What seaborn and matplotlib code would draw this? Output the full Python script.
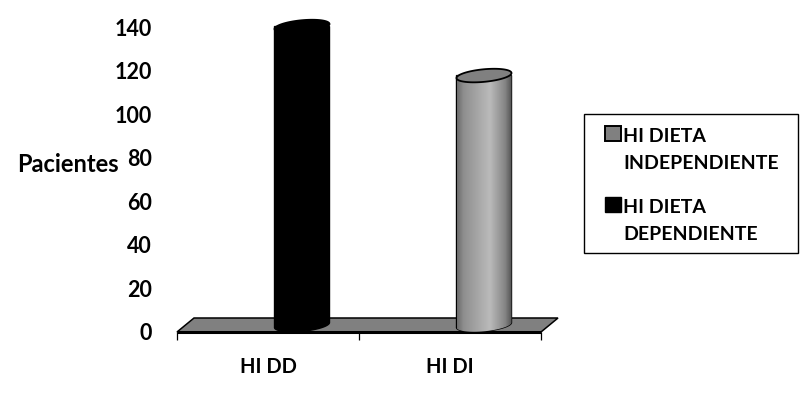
import numpy as np
import pandas as pd
import seaborn as sns
import matplotlib.pyplot as plt
from matplotlib.patches import Polygon, Patch, Rectangle
from matplotlib.transforms import Affine2D

categorias = ['HI DD', 'HI DI']
pacientes = [137, 114.5]
series = ['HI DIETA\nDEPENDIENTE', 'HI DIETA\nINDEPENDIENTE']
colores = ['#000000', '#808080']
yticks = [0, 20, 40, 60, 80, 100, 120, 140]

sns.set_theme(style='white')
plt.rcParams['font.family'] = ['Lato', 'DejaVu Sans']

df = pd.DataFrame({'cat': categorias, 'n': pacientes, 'serie': series})

W, H = 810, 405
fig = plt.figure(figsize=(W / 100, H / 100), dpi=100)
ax = fig.add_axes([177 / W, (H - 332) / H, (541 - 177) / W, (332 - 27) / H])

sns.barplot(data=df, x='cat', y='n', hue='serie', hue_order=series, palette=colores,
            dodge=False, width=55 / 182, legend=False, ax=ax, zorder=3)
ax.set_xlim(-0.5, 1.5)
ax.set_ylim(0, 140)
barras = sorted([b for b in ax.patches if b.get_height() > 0], key=lambda b: b.get_x())

# pseudo 3D: las barras se desplazan hacia el fondo del suelo
prof = ax.transData + Affine2D().translate(34, 7)
px_x = 182
px_y = 305 / 140

# suelo
fx, fy = 17 / px_x, 14 / px_y
suelo = Polygon([(-0.5, 0), (1.5, 0), (1.5 + fx, fy), (-0.5 + fx, fy)], closed=True,
                facecolor='#808080', edgecolor='black', linewidth=1.1, clip_on=False, zorder=1)
ax.add_patch(suelo)
ax.plot([-0.5, 1.5], [0, 0], color='black', lw=2.2, clip_on=False, zorder=2,
        solid_capstyle='butt')

t = np.linspace(0, 2 * np.pi, 80)


def elipse(cx, hw, y):
    return np.column_stack([cx + hw * np.cos(t),
                            y + 6.3 / px_y * np.sin(t) + 2.5 / px_y * np.cos(t)])


for bar, col in zip(barras, colores):
    x0, w, h = bar.get_x(), bar.get_width(), bar.get_height()
    cx, hw = x0 + w / 2, w / 2
    bar.set_visible(False)
    base = elipse(cx, hw, 0)
    arriba = elipse(cx, hw, h)
    inf = base[t > np.pi]
    cuerpo = np.vstack([[(x0, h), (x0 + w, h)], inf[::-1]])
    forma = Polygon(cuerpo, closed=True, transform=prof, facecolor=col, edgecolor='black',
                    linewidth=1.0, clip_on=False, zorder=3)
    ax.add_patch(forma)
    if col != '#000000':
        # degradado del cilindro gris
        grad = np.interp(np.linspace(0, 1, 120), [0, 0.12, 0.6, 0.88, 1],
                         [0.42, 0.56, 0.73, 0.52, 0.32])[None, :]
        img = ax.imshow(grad, cmap='gray', vmin=0, vmax=1, aspect='auto',
                        extent=(x0, x0 + w, -4, h), transform=prof, zorder=3.5,
                        interpolation='bilinear')
        img.set_clip_path(forma)
        ax.set_xlim(-0.5, 1.5)
        ax.set_ylim(0, 140)
    tapa = Polygon(arriba, closed=True, transform=prof, facecolor=col, edgecolor='black',
                   linewidth=1.3, clip_on=False, zorder=4)
    ax.add_patch(tapa)

ax.set_xticks([-0.5, 0.5, 1.5])
ax.set_xticklabels([])
ax.set_xticks([0, 1], categorias, minor=True)
ax.tick_params(axis='x', which='major', length=6, width=0.9, color='black', bottom=True)
ax.tick_params(axis='x', which='minor', length=0, pad=18, labelsize=14.5)
for lab in ax.get_xticklabels(minor=True):
    lab.set_fontweight('bold')
ax.set_yticks(yticks)
ax.tick_params(axis='y', length=0, pad=18, labelsize=15.5)
for lab in ax.get_yticklabels():
    lab.set_fontweight('bold')
ax.set_xlabel('')
ax.set_ylabel('Pacientes', rotation=0, fontsize=17, fontweight='bold', color='black',
              ha='center', va='center')
ax.yaxis.set_label_coords((68 - 177) / 364, (332 - 165) / 305)
for lab in ax.get_xticklabels(minor=True) + ax.get_yticklabels():
    lab.set_color('black')
sns.despine(ax=ax, left=True, bottom=True, top=True, right=True)

# caja de la leyenda
caja = Rectangle((584 / W, (H - 253) / H), (798 - 584) / W, (253 - 114) / H, transform=fig.transFigure,
                 facecolor='white', edgecolor='black', linewidth=1.0)
fig.add_artist(caja)

handles = [Patch(facecolor='#808080', edgecolor='black', linewidth=1.4, label=series[1]),
           Patch(facecolor='#000000', edgecolor='black', label=series[0])]
leg = fig.legend(handles=handles, loc='upper left',
                 bbox_to_anchor=(605 / W, (H - 128) / H), borderaxespad=0, borderpad=0,
                 frameon=False, prop={'family': 'Lato', 'weight': 'bold', 'size': 14},
                 handlelength=0.8, handleheight=0.8, handletextpad=0.15,
                 labelspacing=1.4, labelcolor='black')
for txt in leg.get_texts():
    txt.set_linespacing(1.7)
for parche in leg.get_patches():
    parche.set_y(parche.get_y() + 12)

fig.savefig('out.png', dpi=100)
